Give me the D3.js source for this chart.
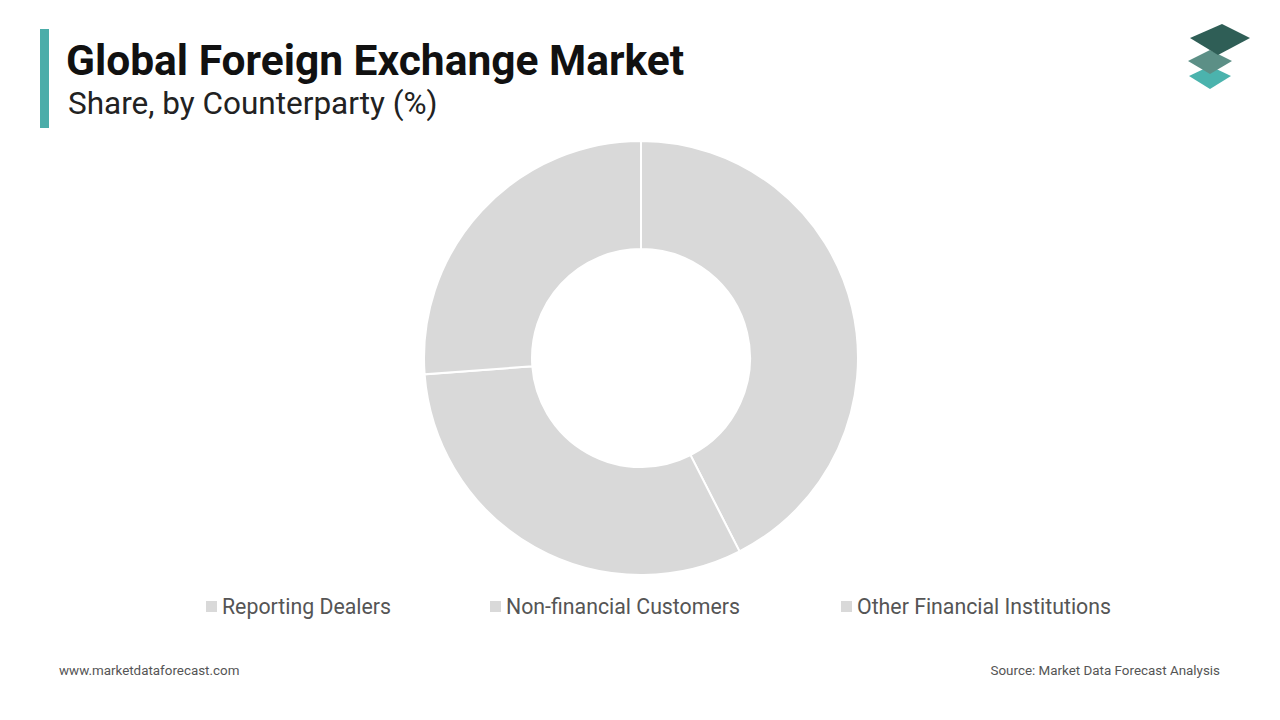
<!DOCTYPE html>
<html>
<head>
<meta charset="utf-8">
<script src="https://cdn.jsdelivr.net/npm/d3@7"></script>
<style>
body{margin:0;background:#fff;font-family:Roboto,"Noto Sans",sans-serif;}
</style>
</head>
<body>
<script>
var categories = ["Reporting Dealers", "Non-financial Customers", "Other Financial Institutions"];
var shares = [42.5, 31.3, 26.2];

var svg = d3.select("body").append("svg").attr("width", 1280).attr("height", 720);

// title block
svg.append("rect").attr("x", 40).attr("y", 29).attr("width", 9).attr("height", 99).attr("fill", "#4bada9");
svg.append("text").attr("x", 66).attr("y", 75).text("Global Foreign Exchange Market")
	.style("font-size", "42.5px").style("font-weight", "bold").attr("fill", "#111");
svg.append("text").attr("x", 68).attr("y", 114).text("Share, by Counterparty (%)")
	.style("font-size", "31.5px").attr("fill", "#222");

// logo
var logo = svg.append("g").attr("transform", "translate(1210,0)");
logo.append("path").attr("d", "M-21,76 L0,66 L21,76 L0,89 Z").attr("fill", "#4bb3ad");
logo.append("path").attr("d", "M-22,61 L0,50 L22,61 L0,74 Z").attr("fill", "#5c8f86");
logo.append("path").attr("d", "M-20,38 L12,24 L40,38 L8,55 Z").attr("fill", "#2f5e56");

// donut
var pie = d3.pie().sort(null).value(function(d){ return d; });
var arc = d3.arc().innerRadius(109).outerRadius(217);
var g = svg.append("g").attr("transform", "translate(641,358)");
g.selectAll("path").data(pie(shares)).enter().append("path")
	.attr("d", arc).attr("fill", "#d9d9d9").attr("stroke", "#fff").attr("stroke-width", 2);

// legend
var legX = [206, 490, 841];
var leg = svg.selectAll(".leg").data(categories).enter().append("g")
	.attr("transform", function(d, i){ return "translate(" + legX[i] + ",607)"; });
leg.append("rect").attr("x", 0).attr("y", -6).attr("width", 11).attr("height", 11).attr("fill", "#d9d9d9");
leg.append("text").attr("x", 16).attr("y", 7).text(function(d){ return d; })
	.style("font-size", "21.3px").attr("fill", "#555");

// footer
svg.append("text").attr("x", 59).attr("y", 675).text("www.marketdataforecast.com")
	.style("font-size", "13.4px").attr("fill", "#555");
svg.append("text").attr("x", 1220).attr("y", 675).attr("text-anchor", "end")
	.text("Source: Market Data Forecast Analysis").style("font-size", "13.4px").attr("fill", "#555");
</script>
</body>
</html>
